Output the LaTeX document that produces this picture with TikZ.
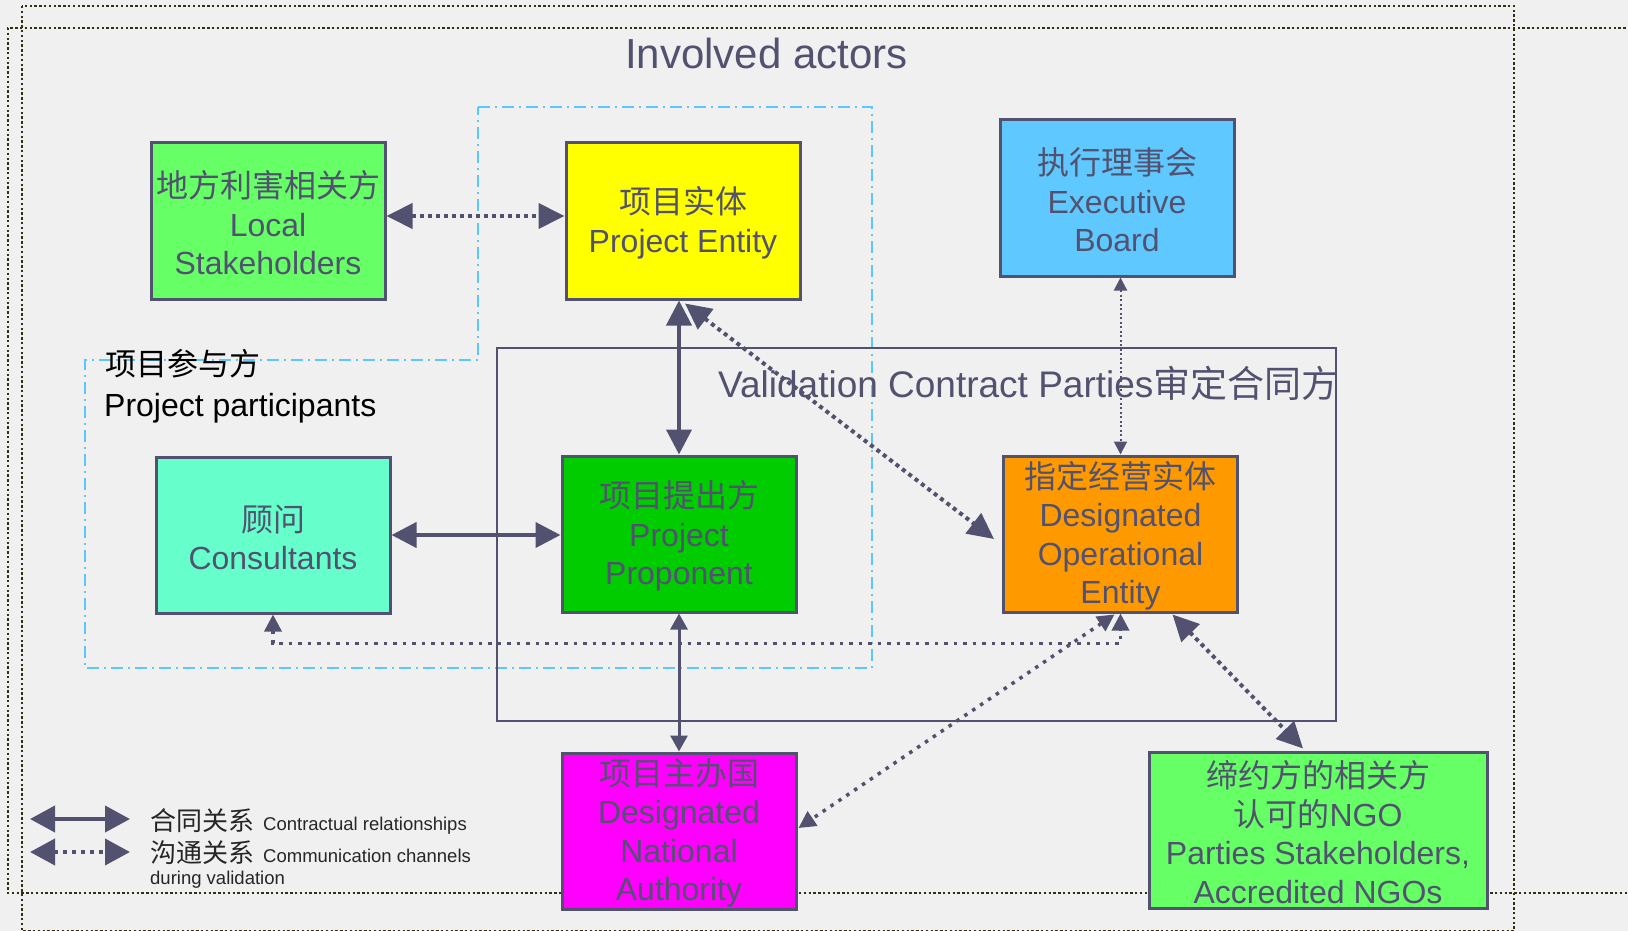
\documentclass[tikz,border=0pt]{standalone}
\usepackage{fontspec}
\setmainfont{Liberation Sans}
\newfontfamily\cjk{Noto Sans CJK SC}
\usetikzlibrary{arrows.meta,calc}
\definecolor{ink}{RGB}{82,82,112}
\definecolor{bgcol}{RGB}{240,240,240}
\definecolor{olive}{RGB}{50,48,14}
\definecolor{ddblue}{RGB}{90,200,250}
\definecolor{lsgreen}{RGB}{102,255,102}
\definecolor{ebblue}{RGB}{95,200,255}
\definecolor{cogreen}{RGB}{102,255,204}
\definecolor{ppgreen}{RGB}{0,204,0}
\definecolor{doeorange}{RGB}{255,153,0}
\definecolor{dnamag}{RGB}{255,0,255}
\definecolor{pey}{RGB}{255,255,0}
\newcommand\myup{\rule{0pt}{31pt}}
\begin{document}
\begin{tikzpicture}[x=1pt,y=-1pt,
  box/.style={draw=ink, line width=3pt, minimum width=234pt, minimum height=156pt, inner sep=0pt, align=center, text=ink, font=\fontsize{32}{38.5}\selectfont},
  lab/.style={inner sep=0pt, anchor=base west},
  solidbig/.style={draw=ink, line width=4pt, {Triangle[length=25pt,width=25pt]}-{Triangle[length=25pt,width=25pt]}},
  solidsmall/.style={draw=ink, line width=3pt, {Triangle[length=16pt,width=17pt]}-{Triangle[length=16pt,width=17pt]}},
  dotbig/.style={draw=ink, line width=4pt, dash pattern=on 4pt off 4pt, {Triangle[length=26pt,width=25pt]}-{Triangle[length=26pt,width=25pt]}},
  dotmid/.style={draw=ink, line width=3.5pt, dash pattern=on 3.5pt off 6pt, {Triangle[length=17pt,width=17pt]}-{Triangle[length=17pt,width=17pt]}},
  dotthin/.style={draw=ink, line width=2pt, dash pattern=on 2pt off 2.5pt, {Triangle[length=13pt,width=13pt]}-{Triangle[length=13pt,width=13pt]}},
  legdot/.style={draw=ink, line width=4pt, dash pattern=on 4pt off 5pt, {Triangle[length=25pt,width=26pt]}-{Triangle[length=25pt,width=26pt]}},
  frame/.style={draw=olive, line width=2.4pt, dash pattern=on 2.4pt off 2.4pt},
  region/.style={draw=ddblue, line width=2pt, dash pattern=on 12pt off 5pt on 2pt off 5pt}
]
\useasboundingbox (0,0) rectangle (1628,931);
\fill[bgcol] (0,0) rectangle (1628,931);

% outer dotted frames
\draw[frame] (22,6) rectangle (1514,931);
\draw[frame] (1640,28) -- (8,28) -- (8,893) -- (1640,893);

% project participants region
\draw[region] (478,107) -- (872,107) -- (872,668) -- (85,668) -- (85,360) -- (478,360) -- cycle;

% validation contract parties region
\draw[draw=ink, line width=2.5pt] (497,348) rectangle (1336,721);

% labels
\node[lab, text=ink, font=\fontsize{42}{50}\selectfont] (title) at (625,69) {Involved actors};
\node[lab, font=\cjk\fontsize{31}{36}\selectfont] (pplab) at (105,375) {项目参与方};
\node[lab, font=\fontsize{32}{38}\selectfont] (pplab2) at (104,416) {Project participants};
\node[lab, text=ink, font=\fontsize{37}{44}\selectfont] (vlab) at (718,397) {Validation Contract Parties{\cjk 审定合同方}};

% boxes
\node[box, fill=lsgreen] (ls) at (268,221) {\myup{\cjk 地方利害相关方}\\Local\\Stakeholders};
\node[box, fill=pey] (pe) at (683,221) {\myup{\cjk 项目实体}\\Project Entity};
\node[box, fill=ebblue] (eb) at (1117,198) {\myup{\cjk 执行理事会}\\Executive\\Board};
\node[box, fill=cogreen] (co) at (273,535) {\myup{\cjk 顾问}\\Consultants};
\node[box, fill=ppgreen] (pp) at (679,534) {\myup{\cjk 项目提出方}\\Project\\Proponent};
\node[box, fill=doeorange] (doe) at (1120.5,534) {\myup{\cjk 指定经营实体}\\Designated\\Operational\\Entity};
\node[box, fill=dnamag] (dna) at (679,831) {\myup{\cjk 项目主办国}\\Designated\\National\\Authority};
\node[box, fill=lsgreen, minimum width=338pt] (ps) at (1318,830) {\myup{\cjk 缔约方的相关方}\\{\cjk 认可的}NGO\\Parties Stakeholders,\\Accredited NGOs};

% connectors
\draw[solidbig] (pp.north |- pe.south) -- (pp.north);
\draw[solidbig] (co.east) -- (co.east -| pp.west);
\draw[solidsmall] (pp.south) -- (dna.north);
\draw[dotbig] ($(ls.east)+(0,-5)$) -- ($(pe.west)+(0,-5)$);
\draw[dotbig] ($(pe.south)+(2,3)$) -- ($(doe.west)+(-8,5)$);
\draw[dotthin] (doe.north |- eb.south) -- (doe.north);
\draw[dotmid] (co.south) -- ++(0,29) -| (doe.south);
\draw[dotmid] ($(doe.south)+(-6,1)$) -- ($(dna.east)+(1,-3)$);
\draw[dotbig] ($(doe.south)+(52,1)$) -- ($(ps.north)+(-15,-2)$);

% legend
\coordinate (l1a) at (30,819);
\coordinate (l1b) at (130,819);
\coordinate (l2a) at (30,852);
\coordinate (l2b) at (130,852);
\draw[solidbig, {Triangle[length=25pt,width=26pt]}-{Triangle[length=25pt,width=26pt]}] (l1a) -- (l1b);
\draw[legdot] (l2a) -- (l2b);
\node[lab, text=black!85] (leg1) at (150,830) {{\cjk\fontsize{26}{30}\selectfont 合同关系}\hspace{9pt}{\fontsize{18.5}{22}\selectfont Contractual relationships}};
\node[lab, text=black!85] (leg2) at (150,862) {{\cjk\fontsize{26}{30}\selectfont 沟通关系}\hspace{9pt}{\fontsize{18.5}{22}\selectfont Communication channels}};
\node[lab, text=black!85, font=\fontsize{18.5}{22}\selectfont] (leg3) at (150,884) {during validation};
\end{tikzpicture}
\end{document}
